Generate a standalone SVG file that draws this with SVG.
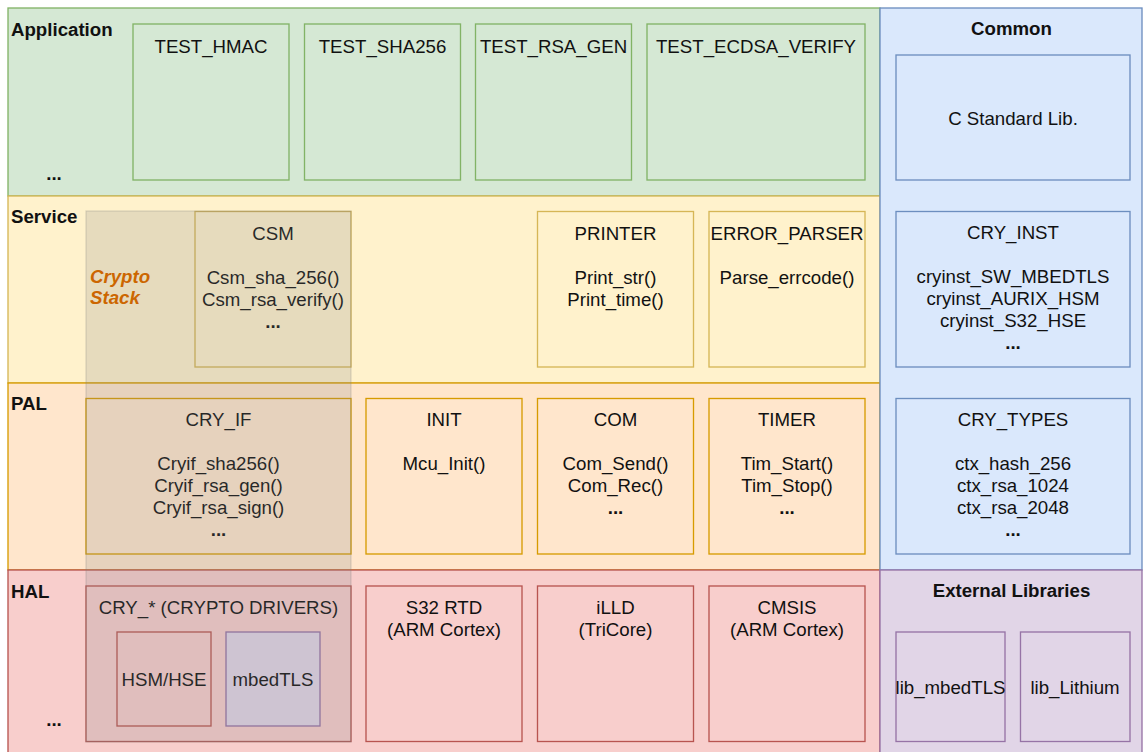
<svg xmlns="http://www.w3.org/2000/svg" width="1143" height="752" viewBox="0 0 1143 752">
  <style>
    text { font-family: "Liberation Sans", Arial, Helvetica, sans-serif; font-size: 18.67px; fill: #111; }
    .c { text-anchor: middle; }
    .b { font-weight: bold; }
    .box { stroke-width: 1.33; }
    .green { fill: #d5e8d4; stroke: #82b366; }
    .yellow { fill: #fff2cc; stroke: #d6b656; }
    .orange { fill: #ffe6cc; stroke: #d79b00; }
    .red { fill: #f8cecc; stroke: #b85450; }
    .blue { fill: #dae8fc; stroke: #6c8ebf; }
    .purple { fill: #e1d5e7; stroke: #9673a6; }
    .stack { fill: #808080; fill-opacity: 0.2; stroke: #808080; stroke-opacity: 0.25; stroke-width: 1.33; }
    .stacklabel { fill: #cc6600; font-weight: bold; font-style: italic; }
  </style>

  <!-- Layer bands -->
  <g id="layers">
    <g id="layer-application">
      <rect class="box green" x="8" y="8" width="872" height="188"/>
      <text class="b" x="11" y="36">Application</text>
      <text class="b c" x="54" y="180">...</text>
    </g>
    <g id="layer-service">
      <rect class="box yellow" x="8" y="196" width="872" height="187"/>
      <text class="b" x="11" y="222.5">Service</text>
    </g>
    <g id="layer-pal">
      <rect class="box orange" x="8" y="383" width="872" height="187"/>
      <text class="b" x="11" y="410">PAL</text>
    </g>
    <g id="layer-hal">
      <rect class="box red" x="8" y="570" width="872" height="190"/>
      <text class="b" x="11" y="597.5">HAL</text>
      <text class="b c" x="54" y="726">...</text>
    </g>
    <g id="layer-common">
      <rect class="box blue" x="880" y="8" width="262" height="562"/>
      <text class="b c" x="1011.5" y="35">Common</text>
    </g>
    <g id="layer-external">
      <rect class="box purple" x="880" y="570" width="262" height="190"/>
      <text class="b c" x="1011.5" y="597">External Libraries</text>
    </g>
  </g>

  <!-- Application modules -->
  <g id="test-hmac">
    <rect class="box green" x="133" y="24" width="156" height="156"/>
    <text class="c" x="211" y="52.5">TEST_HMAC</text>
  </g>
  <g id="test-sha256">
    <rect class="box green" x="304.5" y="24" width="156" height="156"/>
    <text class="c" x="382.5" y="52.5">TEST_SHA256</text>
  </g>
  <g id="test-rsa-gen">
    <rect class="box green" x="475.5" y="24" width="156" height="156"/>
    <text class="c" x="553.5" y="52.5">TEST_RSA_GEN</text>
  </g>
  <g id="test-ecdsa-verify">
    <rect class="box green" x="647" y="24" width="218" height="156"/>
    <text class="c" x="756" y="52.5">TEST_ECDSA_VERIFY</text>
  </g>

  <!-- Service modules -->
  <g id="csm">
    <rect class="box yellow" x="195" y="211.5" width="156" height="155.5"/>
    <text class="c" x="273" y="239.5">CSM</text>
    <text class="c" x="273" y="283.5">Csm_sha_256()</text>
    <text class="c" x="273" y="305.5">Csm_rsa_verify()</text>
    <text class="c b" x="273" y="327.5">...</text>
  </g>
  <g id="printer">
    <rect class="box yellow" x="537.5" y="211.5" width="156" height="155.5"/>
    <text class="c" x="615.5" y="239.5">PRINTER</text>
    <text class="c" x="615.5" y="283.5">Print_str()</text>
    <text class="c" x="615.5" y="305.5">Print_time()</text>
  </g>
  <g id="error-parser">
    <rect class="box yellow" x="709" y="211.5" width="156" height="155.5"/>
    <text class="c" x="787" y="239.5" textLength="153" lengthAdjust="spacingAndGlyphs">ERROR_PARSER</text>
    <text class="c" x="787" y="283.5">Parse_errcode()</text>
  </g>

  <!-- PAL modules -->
  <g id="cry-if">
    <rect class="box orange" x="86" y="398.5" width="265" height="155.5"/>
    <text class="c" x="218.5" y="426">CRY_IF</text>
    <text class="c" x="218.5" y="470">Cryif_sha256()</text>
    <text class="c" x="218.5" y="492">Cryif_rsa_gen()</text>
    <text class="c" x="218.5" y="514">Cryif_rsa_sign()</text>
    <text class="c b" x="218.5" y="536">...</text>
  </g>
  <g id="init">
    <rect class="box orange" x="366" y="398.5" width="156" height="155.5"/>
    <text class="c" x="444" y="426">INIT</text>
    <text class="c" x="444" y="470">Mcu_Init()</text>
  </g>
  <g id="com">
    <rect class="box orange" x="537.5" y="398.5" width="156" height="155.5"/>
    <text class="c" x="615.5" y="426">COM</text>
    <text class="c" x="615.5" y="470">Com_Send()</text>
    <text class="c" x="615.5" y="492">Com_Rec()</text>
    <text class="c b" x="615.5" y="514">...</text>
  </g>
  <g id="timer">
    <rect class="box orange" x="709" y="398.5" width="156" height="155.5"/>
    <text class="c" x="787" y="426">TIMER</text>
    <text class="c" x="787" y="470">Tim_Start()</text>
    <text class="c" x="787" y="492">Tim_Stop()</text>
    <text class="c b" x="787" y="514">...</text>
  </g>

  <!-- HAL modules -->
  <g id="cry-drivers">
    <rect class="box red" x="86" y="586" width="265" height="155.5"/>
    <text class="c" x="218.5" y="614">CRY_* (CRYPTO DRIVERS)</text>
  </g>
  <g id="hsm-hse">
    <rect class="box red" x="117" y="632" width="94" height="94"/>
    <text class="c" x="164" y="686">HSM/HSE</text>
  </g>
  <g id="mbedtls">
    <rect class="box purple" x="226" y="632" width="94" height="94"/>
    <text class="c" x="273" y="686">mbedTLS</text>
  </g>
  <g id="s32-rtd">
    <rect class="box red" x="366" y="586" width="156" height="155.5"/>
    <text class="c" x="444" y="613.5">S32 RTD</text>
    <text class="c" x="444" y="635.5">(ARM Cortex)</text>
  </g>
  <g id="illd">
    <rect class="box red" x="537.5" y="586" width="156" height="155.5"/>
    <text class="c" x="615.5" y="613.5">iLLD</text>
    <text class="c" x="615.5" y="635.5">(TriCore)</text>
  </g>
  <g id="cmsis">
    <rect class="box red" x="709" y="586" width="156" height="155.5"/>
    <text class="c" x="787" y="613.5">CMSIS</text>
    <text class="c" x="787" y="635.5">(ARM Cortex)</text>
  </g>

  <!-- Common modules -->
  <g id="c-stdlib">
    <rect class="box blue" x="896" y="55" width="234" height="125"/>
    <text class="c" x="1013" y="124.5">C Standard Lib.</text>
  </g>
  <g id="cry-inst">
    <rect class="box blue" x="896" y="211.5" width="234" height="155.5"/>
    <text class="c" x="1013" y="239">CRY_INST</text>
    <text class="c" x="1013" y="283">cryinst_SW_MBEDTLS</text>
    <text class="c" x="1013" y="305">cryinst_AURIX_HSM</text>
    <text class="c" x="1013" y="327">cryinst_S32_HSE</text>
    <text class="c b" x="1013" y="349">...</text>
  </g>
  <g id="cry-types">
    <rect class="box blue" x="896" y="398.5" width="234" height="155.5"/>
    <text class="c" x="1013" y="426">CRY_TYPES</text>
    <text class="c" x="1013" y="470">ctx_hash_256</text>
    <text class="c" x="1013" y="492">ctx_rsa_1024</text>
    <text class="c" x="1013" y="514">ctx_rsa_2048</text>
    <text class="c b" x="1013" y="536">...</text>
  </g>

  <!-- External libraries -->
  <g id="lib-mbedtls">
    <rect class="box purple" x="896" y="632" width="109" height="109.5"/>
    <text class="c" x="950.5" y="694">lib_mbedTLS</text>
  </g>
  <g id="lib-lithium">
    <rect class="box purple" x="1020.5" y="632" width="109.5" height="109.5"/>
    <text class="c" x="1075" y="694">lib_Lithium</text>
  </g>

  <!-- Crypto stack highlight spanning Service, PAL and HAL -->
  <g id="crypto-stack">
    <rect class="stack" x="86" y="211" width="265" height="531"/>
    <text class="stacklabel" x="90" y="282.5">Crypto</text>
    <text class="stacklabel" x="90" y="304">Stack</text>
  </g>

  <!-- No connectors in this diagram -->
  <g id="connectors"/>
</svg>
